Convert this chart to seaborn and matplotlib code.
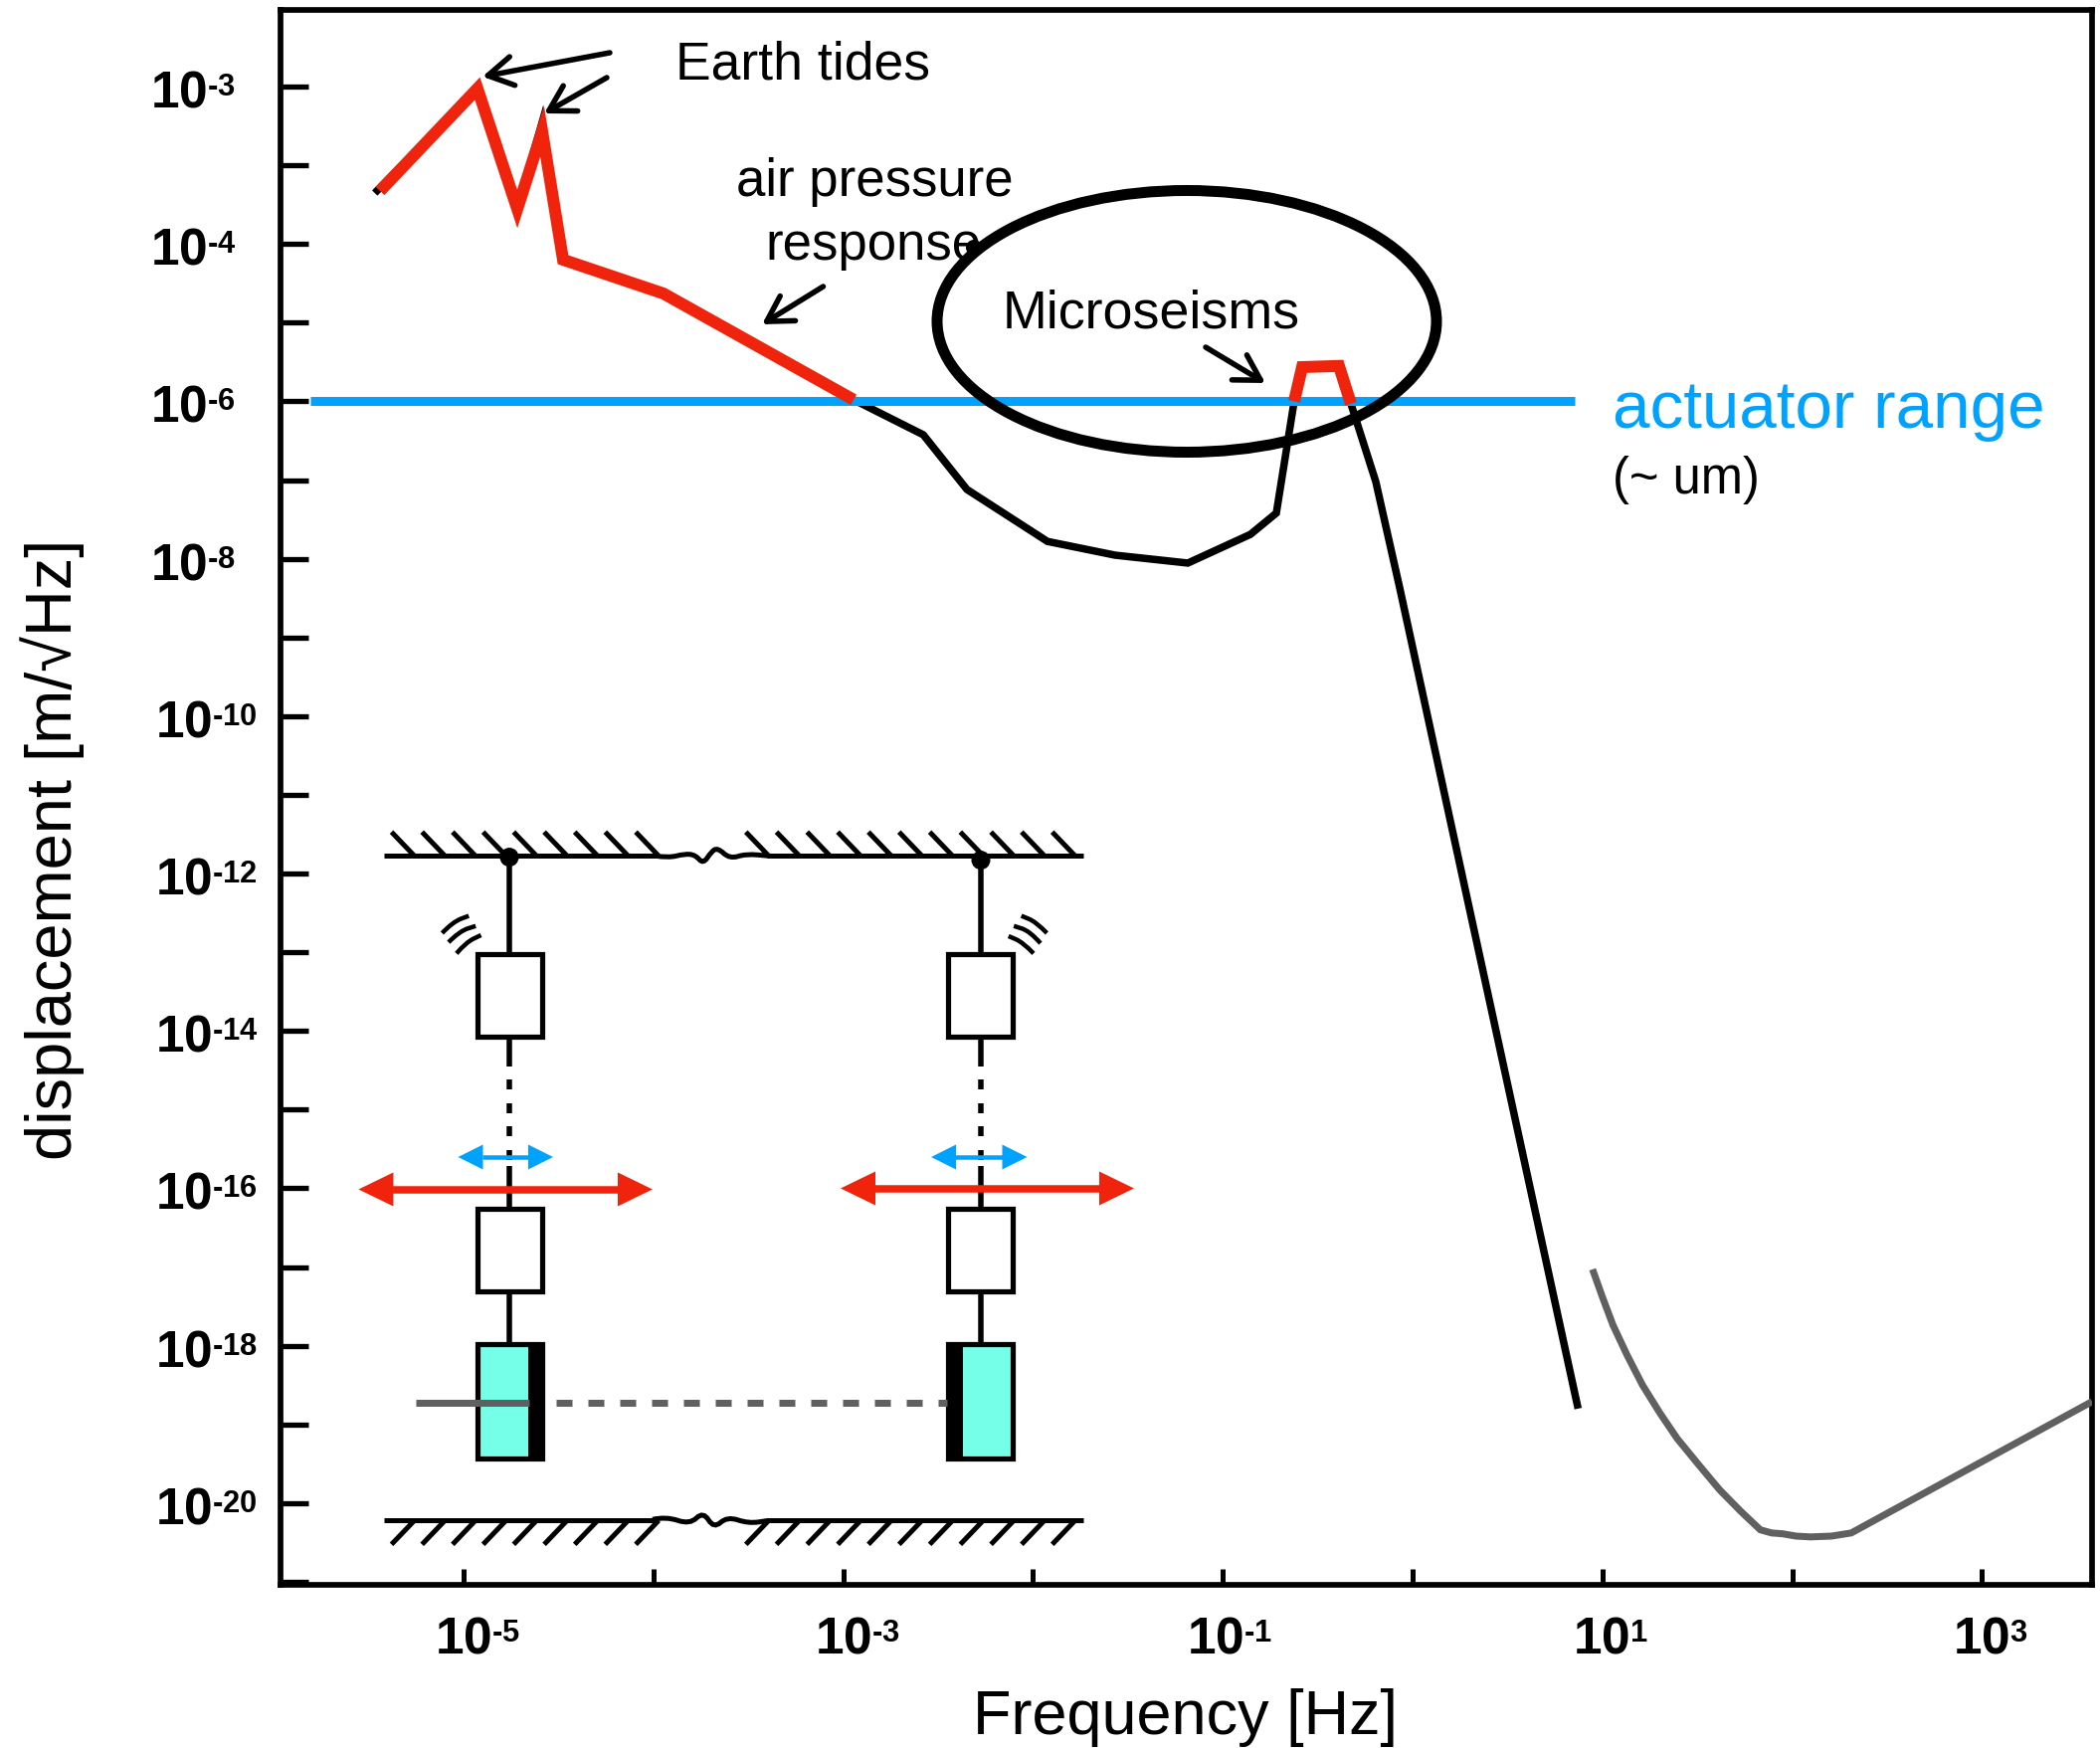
import numpy as np
import pandas as pd
import matplotlib
matplotlib.use("Agg")
import matplotlib.pyplot as plt
import matplotlib._mathtext as _mt
import seaborn as sns
from matplotlib.patches import Ellipse, Rectangle, Polygon, Circle, PathPatch
from matplotlib.path import Path
from matplotlib.transforms import ScaledTranslation

# ---------- data (log10 values) ----------
noise_logf = [-5.468, -4.927, -4.717, -4.586, -4.476, -3.947, -2.945, -2.578, -2.348, -1.924, -1.567,
              -1.184, -0.854, -0.718, -0.624, -0.582, -0.388, -0.325, -0.194, -0.068, 0.872]
noise_logy = [-3.353, -2.025, -3.555, -2.455, -4.2, -4.63, -5.98, -6.425, -7.12, -7.78, -7.955,
              -8.055, -7.69, -7.42, -6.0, -5.565, -5.55, -6.03, -7.02, -8.37, -18.80]
tides_logf = [-5.44, -4.927, -4.717, -4.586, -4.476, -3.947, -2.945]
tides_logy = [-3.327, -2.025, -3.555, -2.569, -4.2, -4.63, -5.98]
micro_logf = [-0.624, -0.582, -0.388, -0.325]
micro_logy = [-6.0, -5.565, -5.55, -6.03]
sens_logf = [0.948, 1.0005, 1.056, 1.13, 1.211, 1.304, 1.394, 1.506, 1.617, 1.727, 1.832, 1.892, 1.948,
             2.021, 2.096, 2.206, 2.311, 3.58]
sens_logy = [-17.03, -17.385, -17.74, -18.12, -18.50, -18.86, -19.18, -19.51, -19.83, -20.10, -20.34,
             -20.38, -20.39, -20.42, -20.43, -20.42, -20.38, -18.71]
actuator_logf = [-5.807, 0.854]
actuator_logy = [-6.0, -6.0]

x_tick_exp = [-5, -4, -3, -2, -1, 0, 1, 2, 3]
x_tick_labels = {-5: "-5", -3: "-3", -1: "-1", 1: "1", 3: "3"}
y_tick_exp = list(range(-21, -1))
y_tick_labels = {-2: "-3", -4: "-4", -6: "-6", -8: "-8", -10: "-10", -12: "-12",
                 -14: "-14", -16: "-16", -18: "-18", -20: "-20"}

BLACK = "#000000"
RED = "#F0230D"
BLUE = "#00A2FF"
GRAY = "#606060"
CYAN = "#76FFE8"

W, H = 2111, 1758
sns.set_theme(style="ticks")
plt.rcParams["font.family"] = ["Liberation Sans", "DejaVu Sans"]
plt.rcParams["mathtext.fontset"] = "custom"
plt.rcParams["mathtext.bf"] = "Liberation Sans:bold"
plt.rcParams["mathtext.rm"] = "Liberation Sans:bold"
plt.rcParams["mathtext.default"] = "bf"
_mt.FontConstantsBase.sup1 = 0.42
_mt.SHRINK_FACTOR = 0.6
PX = 72 / 100.0

fig = plt.figure(figsize=(W / 100, H / 100), dpi=100, facecolor="white")
L, R, T, B = 282, 2103, 11, 1594
DEC_X, DEC_Y = 190.8, 79.1
ax = fig.add_axes([L / W, (H - B) / H, (R - L) / W, (B - T) / H])
ax.set_xscale("log")
ax.set_yscale("log")


def curve(logf, logy, color, lw, z):
    df = pd.DataFrame({"f": 10.0 ** np.array(logf), "y": 10.0 ** np.array(logy)})
    sns.lineplot(data=df, x="f", y="y", ax=ax, color=color, linewidth=lw * PX, sort=False,
                 estimator=None, errorbar=None, zorder=z,
                 solid_joinstyle="miter", solid_capstyle="butt")


curve(noise_logf, noise_logy, BLACK, 7.5, 3)
curve(actuator_logf, actuator_logy, BLUE, 9, 4)
curve(tides_logf, tides_logy, RED, 12, 5)
curve(micro_logf, micro_logy, RED, 12, 5)
curve(sens_logf, sens_logy, GRAY, 7, 5)

ax.set_xlim(10.0 ** (-5 - (466 - L) / DEC_X), 10.0 ** (-5 + (R - 466) / DEC_X))
ax.set_ylim(10.0 ** (-6 + (404.4 - B) / DEC_Y), 10.0 ** (-6 + (404.4 - T) / DEC_Y))

xt = [10.0 ** e for e in x_tick_exp]
yt = [10.0 ** e for e in y_tick_exp]
ax.set_xticks(xt, [r"$\mathbf{10^{\text{%s}}}$" % x_tick_labels[e] if e in x_tick_labels else "" for e in x_tick_exp])
ax.set_yticks(yt, [r"$\mathbf{10^{\text{%s}}}$" % y_tick_labels[e] if e in y_tick_labels else "" for e in y_tick_exp])
ax.minorticks_off()
for s in ax.spines.values():
    s.set_linewidth(5.7 * PX)
    s.set_color(BLACK)
ax.tick_params(axis="x", which="major", direction="in", length=16 * PX, width=5 * PX, pad=67.7 * PX,
               labelsize=37, color=BLACK, labelcolor=BLACK)
ax.tick_params(axis="y", which="major", direction="in", length=28 * PX, width=5.3 * PX, pad=131 * PX,
               labelsize=37, color=BLACK, labelcolor=BLACK)
x_left_off = {-5: -29, -3: -29, -1: -36, 1: -30, 3: -29}
for e, t in zip(x_tick_exp, ax.xaxis.get_major_ticks()):
    lab = t.label1
    lab.set_ha("left")
    lab.set_va("baseline")
    if e in x_left_off:
        lab.set_transform(lab.get_transform() + ScaledTranslation(x_left_off[e] / 100, 0, fig.dpi_scale_trans))
for e, t in zip(y_tick_exp, ax.yaxis.get_major_ticks()):
    lab = t.label1
    lab.set_ha("left")
    lab.set_va("baseline")
    dx = 5 if e <= -10 else 0
    lab.set_transform(lab.get_transform() + ScaledTranslation(dx / 100, -19.5 / 100, fig.dpi_scale_trans))

ax.set_xlabel("Frequency [Hz]", fontsize=45.4, color=BLACK, va="baseline")
ax.xaxis.set_label_coords((1191 - L) / (R - L), (B - 1743) / (B - T))
ax.set_ylabel("displacement [m/\u221aHz]", fontsize=46.8, color=BLACK)
ax.yaxis.set_label_coords((85 - L) / (R - L), (B - 853.5) / (B - T))

# ---------- overlay in picture pixels for annotations and the schematic ----------
ov = fig.add_axes([0, 0, 1, 1], zorder=10)
ov.set_xlim(0, W)
ov.set_ylim(H, 0)
ov.axis("off")


def seg(x0, y0, x1, y1, lw=5, c=BLACK, z=5, cap="butt", **kw):
    ov.plot([x0, x1], [y0, y1], color=c, lw=lw * PX, zorder=z, solid_capstyle=cap, **kw)


def zx(x):
    return 340 + x / 1.867


def zy(y):
    return 800 + y / 1.958


def smooth(pts, lw=5):
    pts = [(zx(a), zy(b)) for a, b in pts]
    verts = [pts[0]]
    codes = [Path.MOVETO]
    for i in range(1, len(pts) - 1):
        mid = ((pts[i][0] + pts[i + 1][0]) / 2, (pts[i][1] + pts[i + 1][1]) / 2)
        verts += [pts[i], mid]
        codes += [Path.CURVE3, Path.CURVE3]
    verts.append(pts[-1])
    codes.append(Path.LINETO)
    ov.add_patch(PathPatch(Path(verts, codes), fc="none", ec=BLACK, lw=lw * PX, zorder=5))


def arrow(x0, y0, x1, y1):
    ov.annotate("", xy=(x1, y1), xytext=(x0, y0),
                arrowprops=dict(arrowstyle="->,head_length=0.6,head_width=0.35", mutation_scale=30,
                                lw=5.5 * PX, color=BLACK, shrinkA=0, shrinkB=0), zorder=7)


def double_arrow(x0, x1, y, lw, hl, hw, c):
    seg(x0 + hl - 1, y, x1 - hl + 1, y, lw=lw, c=c, z=8)
    ov.add_patch(Polygon([(x0, y), (x0 + hl, y - hw / 2), (x0 + hl, y + hw / 2)], fc=c, ec="none", zorder=8))
    ov.add_patch(Polygon([(x1, y), (x1 - hl, y - hw / 2), (x1 - hl, y + hw / 2)], fc=c, ec="none", zorder=8))


# annotation text
ov.text(679, 79, "Earth tides", fontsize=38.5, color=BLACK, va="baseline", ha="left", zorder=6)
ov.text(739.5, 197, "air pressure", fontsize=38, color=BLACK, va="baseline", ha="left", zorder=6)
ov.text(769.5, 261, "response", fontsize=38, color=BLACK, va="baseline", ha="left", zorder=6)
ov.text(1008, 329, "Microseisms", fontsize=38.8, color=BLACK, va="baseline", ha="left", zorder=6)
ov.text(1621, 430, "actuator range", fontsize=48.5, color=BLUE, va="baseline", ha="left", zorder=6)
ov.text(1621, 496, "(~ um)", fontsize=36.5, color=BLACK, va="baseline", ha="left", zorder=6)
arrow(613, 54, 485, 78)
arrow(610, 79, 547, 115)
arrow(827.5, 289, 766, 327)
arrow(1212, 350, 1272, 386)

# microseism ellipse
ov.add_patch(Ellipse((1193, 324), 502, 263, fc="none", ec=BLACK, lw=11 * PX, zorder=6))
ov.add_patch(Circle((979, 250), 8, fc=BLACK, ec="none", zorder=6))

# ground lines
for yl, ylo in [(120, 73), (1428, 1475)]:
    seg(zx(85), zy(yl), zx(600), zy(yl), lw=5)
    seg(zx(805), zy(yl), zx(1398), zy(yl), lw=5)
    for x in np.arange(9) * 57.3 + 100:
        seg(zx(x), zy(ylo), zx(x + 43), zy(yl), lw=5)
    for x in np.arange(11) * 57.5 + 765:
        seg(zx(x), zy(ylo), zx(x + 43), zy(yl), lw=5)
smooth([(595, 120), (620, 124), (650, 116), (670, 118), (685, 136), (700, 112), (712, 104), (735, 126), (765, 116), (808, 120)])
smooth([(590, 1426), (615, 1420), (660, 1436), (685, 1410), (705, 1444), (730, 1420), (770, 1434), (808, 1428)])

# suspensions
for side, xw, dot_y in [(0, 512, 862.6), (1, 986, 865.6)]:
    xl = 480 if side == 0 else 953
    ov.add_patch(Circle((xw, dot_y), 9.5, fc=BLACK, ec="none", zorder=6))
    seg(xw, 862, xw, 961, lw=5.5)
    ov.add_patch(Rectangle((xl, 960), 65, 83, fc="white", ec=BLACK, lw=5.2 * PX, zorder=6))
    seg(xw, 1043, xw, 1073, lw=5.5)
    for yd in (1086, 1109.5, 1133, 1156.5):
        seg(xw, yd, xw, yd + 10, lw=5.5)
    seg(xw, 1173, xw, 1216, lw=5.5)
    ov.add_patch(Rectangle((xl, 1215.5), 65, 83, fc="white", ec=BLACK, lw=5.2 * PX, zorder=6))
    seg(xw, 1298, xw, 1355, lw=5.5, z=8)
    ov.add_patch(Rectangle((xl, 1351.5), 65, 115.5, fc=CYAN, ec=BLACK, lw=5.2 * PX, zorder=6))
    ov.add_patch(Rectangle((531 if side == 0 else 953, 1349.5), 15, 119.5, fc=BLACK, ec="none", zorder=6))

# beam
seg(417.7, 1410.5, 531.7, 1410.5, lw=7, c=GRAY, z=7)
for x in np.arange(13) * 32 + 558.5:
    seg(x, 1410.5, min(x + 16, 952), 1410.5, lw=7, c=GRAY, z=7)

# wave marks
for pts in [[(195, 272), (215, 250), (245, 238)], [(207, 290), (228, 268), (258, 258)], [(222, 312), (240, 290), (268, 276)],
            [(1330, 272), (1310, 250), (1282, 238)], [(1318, 292), (1298, 268), (1268, 258)], [(1305, 312), (1285, 290), (1258, 278)]]:
    smooth(pts, lw=4.5)

# actuator arrows
double_arrow(460.5, 556, 1164, 4.5, 25, 25, BLUE)
double_arrow(936, 1032.5, 1164, 4.5, 25, 25, BLUE)
double_arrow(360.4, 656, 1196.5, 7.5, 35, 34, RED)
double_arrow(845, 1140, 1195.5, 7.5, 35, 34, RED)

fig.savefig("out.png", dpi=100, facecolor="white")
